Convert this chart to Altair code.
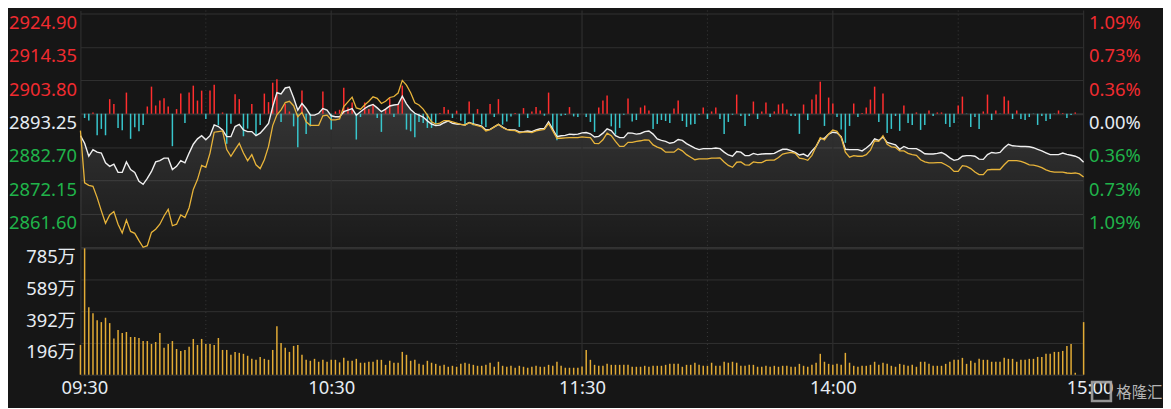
import altair as alt
import pandas as pd

# ---------------- data (one value per trading minute, 09:30 .. 15:00) ----------------
minutes = list(range(241))

white = [
    2886.3, 2883.9, 2879.8, 2881.9, 2881.1, 2880.8, 2877.7, 2876.6, 2877.3, 2874.7,
    2874.7, 2878.0, 2875.6, 2874.7, 2871.9, 2870.9, 2872.8, 2875.0, 2878.0, 2878.4,
    2879.2, 2879.2, 2875.6, 2876.6, 2878.4, 2877.7, 2880.8, 2883.6, 2885.3, 2886.3,
    2885.0, 2886.3, 2889.7, 2889.2, 2888.1, 2886.0, 2886.0, 2889.2, 2889.9, 2888.1,
    2887.6, 2887.6, 2886.3, 2887.1, 2888.6, 2890.2, 2895.5, 2899.9, 2899.5, 2901.4,
    2901.7, 2898.3, 2894.4, 2896.5, 2894.9, 2892.8, 2892.8, 2893.4, 2894.9, 2894.4,
    2892.6, 2892.3, 2892.3, 2893.9, 2894.4, 2894.9, 2892.8, 2893.9, 2894.9, 2895.7,
    2896.2, 2895.1, 2893.9, 2894.7, 2895.7, 2896.0, 2896.2, 2898.8, 2896.4, 2894.6,
    2893.4, 2892.8, 2892.2, 2891.0, 2890.0, 2889.5, 2889.7, 2890.4, 2891.0, 2890.2,
    2890.0, 2889.9, 2889.7, 2890.5, 2890.0, 2889.7, 2889.3, 2888.1, 2888.3, 2889.1,
    2889.9, 2889.0, 2888.3, 2888.1, 2888.1, 2887.5, 2887.6, 2887.8, 2887.6, 2888.1,
    2888.5, 2888.6, 2890.7, 2888.3, 2886.0, 2886.3, 2886.4, 2886.8, 2886.7, 2886.8,
    2887.2, 2887.3, 2886.9, 2885.9, 2886.1, 2887.1, 2888.5, 2887.9, 2886.3, 2885.7,
    2885.7, 2887.2, 2887.1, 2886.8, 2887.0, 2887.6, 2887.8, 2886.8, 2885.3, 2884.8,
    2884.5, 2883.9, 2884.2, 2885.1, 2884.8, 2883.8, 2883.1, 2882.4, 2881.9, 2882.2,
    2882.2, 2882.2, 2882.4, 2882.2, 2881.1, 2880.2, 2879.8, 2881.3, 2881.1, 2880.0,
    2880.0, 2880.7, 2880.3, 2880.5, 2880.6, 2880.6, 2880.7, 2881.4, 2882.0, 2882.0,
    2881.6, 2881.0, 2880.2, 2880.5, 2879.8, 2881.5, 2882.9, 2885.3, 2885.5, 2886.8,
    2887.4, 2887.2, 2886.0, 2882.0, 2881.9, 2881.9, 2881.9, 2881.5, 2882.4, 2883.5,
    2885.3, 2884.8, 2885.9, 2884.2, 2883.8, 2883.4, 2882.0, 2882.9, 2882.3, 2882.2,
    2882.2, 2881.5, 2880.6, 2880.5, 2880.5, 2880.7, 2881.0, 2880.3, 2879.3, 2878.5,
    2878.8, 2879.8, 2880.0, 2880.0, 2879.8, 2878.9, 2878.8, 2880.3, 2881.0, 2880.8,
    2881.0, 2882.5, 2883.6, 2883.1, 2883.0, 2882.9, 2882.9, 2882.8, 2882.5, 2882.0,
    2881.5, 2880.9, 2880.3, 2880.3, 2880.3, 2880.8, 2880.4, 2880.1, 2879.8, 2879.2,
    2877.9,
]

yellow = [
    2887.9, 2871.4, 2870.6, 2870.3, 2866.7, 2862.5, 2858.6, 2861.2, 2862.3, 2858.3,
    2855.5, 2859.6, 2856.0, 2855.4, 2853.1, 2851.0, 2851.5, 2855.7, 2856.7, 2858.3,
    2860.9, 2863.0, 2857.8, 2858.3, 2861.2, 2860.4, 2863.5, 2869.3, 2872.4, 2876.9,
    2876.3, 2880.8, 2887.4, 2887.6, 2887.8, 2881.9, 2879.8, 2881.9, 2883.9, 2880.8,
    2878.4, 2880.3, 2877.1, 2875.9, 2878.7, 2882.9, 2889.5, 2892.9, 2894.5, 2896.8,
    2897.2, 2895.8, 2892.3, 2893.7, 2890.7, 2889.6, 2889.6, 2889.6, 2892.6, 2892.8,
    2891.3, 2891.3, 2891.6, 2895.5, 2897.0, 2898.5, 2895.1, 2894.7, 2896.0, 2897.2,
    2898.6, 2898.1, 2896.5, 2897.2, 2898.4, 2898.7, 2899.8, 2903.8, 2902.3, 2899.9,
    2896.7, 2896.0, 2894.7, 2892.8, 2890.7, 2890.0, 2890.3, 2891.1, 2891.1, 2890.7,
    2890.3, 2889.9, 2889.7, 2890.4, 2889.9, 2889.5, 2889.1, 2887.8, 2888.2, 2889.1,
    2889.9, 2888.9, 2888.2, 2888.0, 2887.9, 2887.2, 2887.4, 2887.4, 2887.3, 2887.8,
    2888.1, 2888.3, 2890.2, 2887.8, 2885.5, 2885.5, 2885.6, 2885.7, 2885.7, 2885.7,
    2885.9, 2885.8, 2885.7, 2883.9, 2883.8, 2885.0, 2887.1, 2886.3, 2884.5, 2882.9,
    2882.9, 2884.2, 2884.2, 2884.5, 2884.7, 2885.0, 2884.9, 2883.4, 2882.7, 2882.2,
    2881.1, 2881.1, 2881.1, 2882.2, 2881.5, 2880.3, 2879.5, 2878.7, 2879.0, 2879.0,
    2879.0, 2879.2, 2879.2, 2879.3, 2878.0, 2876.9, 2876.3, 2877.9, 2878.0, 2877.1,
    2877.0, 2878.0, 2877.8, 2877.8, 2878.5, 2878.6, 2878.6, 2879.4, 2880.5, 2880.8,
    2881.0, 2880.7, 2879.2, 2879.0, 2878.5, 2880.1, 2882.9, 2885.7, 2885.0, 2886.8,
    2888.1, 2887.7, 2885.7, 2881.1, 2879.5, 2880.0, 2879.8, 2879.8, 2880.3, 2881.7,
    2884.7, 2884.5, 2886.3, 2883.6, 2882.8, 2882.6, 2881.5, 2881.5, 2880.7, 2880.3,
    2880.1, 2878.7, 2878.0, 2877.7, 2877.7, 2877.8, 2877.8, 2877.1, 2876.3, 2875.0,
    2875.0, 2876.8, 2876.6, 2875.9, 2874.8, 2874.0, 2874.0, 2875.5, 2875.6, 2875.6,
    2875.6, 2877.1, 2878.4, 2878.4, 2878.4, 2878.2, 2877.7, 2877.1, 2877.0, 2876.7,
    2876.2, 2875.5, 2875.0, 2874.8, 2874.8, 2874.8, 2874.5, 2874.4, 2874.5, 2874.2,
    2873.2,
]

# buy / sell strength bars (positive = red, negative = cyan)
power = [
    0, -4.3, -6.7, 1.3, -21.7, -15.3, -21.7, 14.7, 9.7, -14.3,
    -16.7, 21.3, -25.3, -13.7, -17.7, -11.3, 7.3, 27.3, 8.3, 13.3,
    15.7, 7.3, -32.7, 4.7, 20.3, -9.3, 21.3, 28.3, 13.3, 23.3,
    -5.3, 23.3, 29.3, -11.7, 1.3, -30.3, -10, 19.7, 14.7, -22.7,
    -15, 9.7, -21.7, -11.3, 20.3, 11.7, 31.3, 34.7, -8.3, 9.7,
    2.3, -12.7, -33.7, 23.3, -20.3, -12.7, 0, 0, 22.3, 0,
    -16, 2.3, 4, 26.3, 6.3, 11.3, -26, -3.3, 11.3, 4.7,
    9.7, -4.3, -18.3, 4.7, 15.7, -3.3, 9.7, 28.3, -16, -17.7,
    -23.7, -8.3, -9.3, -14.3, -14.3, -11, 0.7, 6.7, 4, -4.3,
    3, -7, -11, 12.3, -11.7, 4.7, -11, -13.3, 9.7, -3.3,
    14.7, -11, -7.7, -2.7, 0.7, -13.3, 5.7, -4.3, 2.3, 6.7,
    3.3, -2, 21.3, -16, -26.7, -2, -1.3, 6.7, -2.7, -3.3,
    0, -3.3, -8.3, -18.3, 6.3, 13.3, 18.3, -12.7, -21, -14.3,
    -1, 15.3, -7.7, -6.3, 6.3, 8.3, 3.3, -15.3, -10.3, -6.3,
    -7.3, -9.3, 5.3, 13.3, -7.3, -13.3, -11, -10.3, -1.3, 6.3,
    -5.3, 2.3, 6.3, -5.3, -20.3, -8.3, -1, 19.3, -2.3, -12.3,
    -2.3, 12.3, -5.3, 2.3, 11.3, -3.3, 2.3, 9.3, 10.3, 4.3,
    -2.3, -2.3, -20.3, 9.3, -6.3, 14.3, 19.3, 32.3, -12.3, 16.3,
    10.3, -3.3, -16, -29.3, -12.3, 10.3, -3.3, 0.7, 6.3, 14.3,
    27.3, -8.3, 20.3, -19.3, -15.3, -2.3, -17.3, 8.3, -9.3, -11.3,
    1.3, -16.3, -11.3, 3.3, -2.3, 1.3, 1.3, -10.3, -13.3, -9.3,
    8.3, 17.3, -0.3, -13.3, -3.3, -15.3, 2.3, 19.3, -6.3, 3.3,
    -0.3, 17.3, 13.3, -5.3, 3.3, -5.3, -6.3, -3.3, -0.3, -11.3,
    -2.3, -7.3, -5.3, -0.3, 3.3, 0.7, -4.3, -1.3, 1.3, 0,
    0,
]

# volume, in 万
volume = [
    184, 781, 417, 380, 337, 325, 352, 319, 223, 276,
    258, 264, 233, 233, 227, 208, 208, 190, 202, 258,
    166, 190, 208, 159, 147, 153, 172, 221, 184, 221,
    190, 190, 184, 227, 153, 153, 123, 141, 135, 129,
    117, 98, 92, 110, 98, 92, 153, 300, 196, 166,
    141, 178, 184, 123, 92, 86, 98, 80, 92, 80,
    92, 92, 76, 104, 86, 86, 98, 74, 74, 80,
    80, 92, 92, 61, 86, 74, 74, 141, 123, 86,
    92, 67, 61, 86, 74, 67, 55, 61, 49, 55,
    49, 67, 74, 67, 61, 55, 55, 61, 74, 49,
    80, 55, 49, 55, 43, 55, 49, 43, 49, 55,
    49, 49, 61, 55, 80, 55, 43, 43, 43, 43,
    51, 153, 92, 61, 55, 55, 67, 61, 61, 61,
    61, 61, 49, 49, 49, 55, 49, 55, 55, 55,
    61, 67, 67, 67, 49, 61, 61, 74, 61, 55,
    55, 74, 55, 55, 80, 74, 80, 74, 55, 55,
    61, 61, 49, 49, 55, 49, 55, 49, 55, 55,
    49, 49, 67, 55, 49, 61, 74, 129, 80, 67,
    61, 67, 61, 135, 74, 55, 49, 55, 55, 61,
    80, 61, 74, 67, 55, 49, 67, 61, 55, 61,
    49, 80, 80, 67, 55, 55, 55, 67, 80, 92,
    92, 104, 67, 86, 74, 98, 92, 92, 80, 80,
    80, 104, 98, 98, 80, 92, 92, 98, 98, 110,
    110, 129, 129, 141, 141, 147, 178, 190, 12, 0,
    325,
]

PREV_CLOSE = 2893.25
price_ticks = [2861.60, 2872.15, 2882.70, 2893.25, 2903.80, 2914.35, 2924.90]
vol_ticks = [196, 392, 589, 785]
time_ticks = [0, 60, 120, 180, 240]
time_labels = ["09:30", "10:30", "11:30", "14:00", "15:00"]
hour_lines = [60, 120, 180, 240]
half_lines = [30, 90, 150, 210]
P_MIN, P_MAX = 2850.86, 2925.91
VOL_MAX = 785
POWER_DOMAIN = [-135, 104]

# ---------------- styling ----------------
BG = "#161616"
GRID = "#303030"
RED = "#f02b30"
GREEN = "#20b34a"
LIGHT = "#e6ecf2"
BAR_RED = "#ff2e2e"
BAR_CYAN = "#38c6cc"
VOL_COLOR = "#e2ab35"
FONT = "Noto Sans, Noto Sans CJK SC"
FS = 18.5

PRICE_H, TOTAL_H, W = 239, 367, 1011

df = pd.DataFrame({"m": minutes, "white": white, "yellow": yellow,
                   "power": power, "vol": volume})
df["floor"] = P_MIN
df["base"] = 0.0

XS = alt.Scale(domain=[0, 240], nice=False, zero=False)
PRICE_SCALE = alt.Scale(domain=[P_MIN, P_MAX], range=[PRICE_H, 0], nice=False, zero=False)
POWER_SCALE = alt.Scale(domain=POWER_DOMAIN, range=[PRICE_H, 0], nice=False, zero=False)
VOL_SCALE = alt.Scale(domain=[0, VOL_MAX], range=[TOTAL_H, PRICE_H], nice=False, zero=False)

price_color = {
    "condition": [
        {"test": f"datum.value > {PREV_CLOSE + 1}", "value": RED},
        {"test": f"datum.value < {PREV_CLOSE - 1}", "value": GREEN},
    ],
    "value": LIGHT,
}

left_axis = alt.Axis(
    orient="left", values=price_ticks, format=".2f", title=None,
    labelFont=FONT, labelFontSize=FS, labelColor=price_color,
    labelBaseline="top", labelAlign="right", labelPadding=4,
    labelOverlap=False, labelFlush=False,
    ticks=False, domain=True, domainColor="#333333",
    grid=True, gridColor=GRID,
    gridWidth={"condition": {"test": f"abs(datum.value - {PREV_CLOSE}) < 0.01", "value": 2}, "value": 1},
)

right_axis = alt.Axis(
    orient="right", values=price_ticks, title=None,
    labelExpr=f"format(abs(datum.value - {PREV_CLOSE}) / {PREV_CLOSE} * 100, '.2f') + '%'",
    labelFont=FONT, labelFontSize=FS, labelColor=price_color,
    labelBaseline="top", labelAlign="left", labelPadding=5,
    labelOverlap=False, labelFlush=False,
    ticks=False, domain=False, grid=False,
)

vol_axis = alt.Axis(
    orient="left", values=vol_ticks, title=None,
    labelExpr="datum.value + '万'",
    labelFont=FONT, labelFontSize=FS, labelColor=LIGHT,
    labelBaseline="top", labelAlign="right", labelPadding=5,
    labelOverlap=False, labelFlush=False,
    ticks=False, domain=True, domainColor="#333333",
    grid=True, gridColor=GRID,
    gridWidth={"condition": {"test": f"datum.value == {VOL_MAX}", "value": 2.5}, "value": 1},
)

time_expr = " : ".join(
    f"datum.value == {t} ? '{lab}'" for t, lab in zip(time_ticks, time_labels)
) + " : ''"

x_axis = alt.Axis(
    orient="bottom", values=time_ticks, title=None, labelExpr=time_expr,
    labelFont=FONT, labelFontSize=FS, labelColor=LIGHT, labelPadding=4,
    labelOverlap=False, labelFlush=False,
    labelOffset={"condition": [
        {"test": "datum.value == 0", "value": 4},
        {"test": "datum.value == 240", "value": 6},
    ], "value": 0},
    ticks=False, domain=True, domainColor="#333333", grid=False,
)


def X(field):
    return alt.X(field, scale=XS, axis=x_axis)


gradient = alt.Gradient(
    gradient="linear",
    stops=[alt.GradientStop(color="rgba(255,255,255,0.15)", offset=0),
           alt.GradientStop(color="rgba(255,255,255,0.02)", offset=1)],
    x1=0, x2=0, y1=0, y2=1,
)

area = alt.Chart(df).mark_area(color=gradient, interpolate="linear").encode(
    x=X("m:Q"),
    y=alt.Y("white:Q", scale=PRICE_SCALE, axis=left_axis),
    y2="floor:Q",
)

hour_rules = alt.Chart(pd.DataFrame({"t": hour_lines})).mark_rule(
    color="#2e2e2e", strokeWidth=1.2
).encode(x=X("t:Q"))

half_rules = alt.Chart(pd.DataFrame({"t": half_lines})).mark_rule(
    color="#3a3a3a", strokeWidth=1, strokeDash=[1, 3]
).encode(x=X("t:Q"))

power_bars = alt.Chart(df).transform_filter("datum.power != 0").mark_rule(
    strokeWidth=1.5
).encode(
    x=X("m:Q"),
    y=alt.Y("base:Q", scale=POWER_SCALE, axis=None),
    y2="power:Q",
    color=alt.condition("datum.power > 0", alt.value(BAR_RED), alt.value(BAR_CYAN)),
)

vol_bars = alt.Chart(df).transform_filter("datum.vol > 0").mark_rule(
    strokeWidth=1.5, color=VOL_COLOR
).encode(
    x=X("m:Q"),
    y=alt.Y("vol:Q", scale=VOL_SCALE, axis=vol_axis),
    y2="base:Q",
)

white_line = alt.Chart(df).mark_line(color="#f0f0f0", strokeWidth=1.4).encode(
    x=X("m:Q"),
    y=alt.Y("white:Q", scale=PRICE_SCALE, axis=None),
)

yellow_line = alt.Chart(df).mark_line(color="#e8b43a", strokeWidth=1.3).encode(
    x=X("m:Q"),
    y=alt.Y("yellow:Q", scale=PRICE_SCALE, axis=right_axis),
)

logo = alt.Chart(pd.DataFrame({"t": ["格隆汇"]})).mark_point(
    shape="square", filled=False, size=360, strokeWidth=2.6, color="#a4a4a4", opacity=0.9
).encode(x=alt.value(1029), y=alt.value(384))

watermark = alt.Chart(pd.DataFrame({"t": ["格隆汇"]})).mark_text(
    font="Noto Sans CJK SC", fontSize=15.5, color="#b4b4b4", align="left", baseline="middle"
).encode(x=alt.value(1044), y=alt.value(385), text="t:N")

chart = alt.layer(
    area, hour_rules, half_rules, power_bars, vol_bars, white_line, yellow_line, logo, watermark
).resolve_scale(y="independent").properties(
    width=W, height=TOTAL_H, background=BG,
    padding={"left": 0, "top": 0, "right": 0, "bottom": 0},
).configure_view(stroke=None)

chart.save("out.html", embed_options={"renderer": "svg", "actions": False})
